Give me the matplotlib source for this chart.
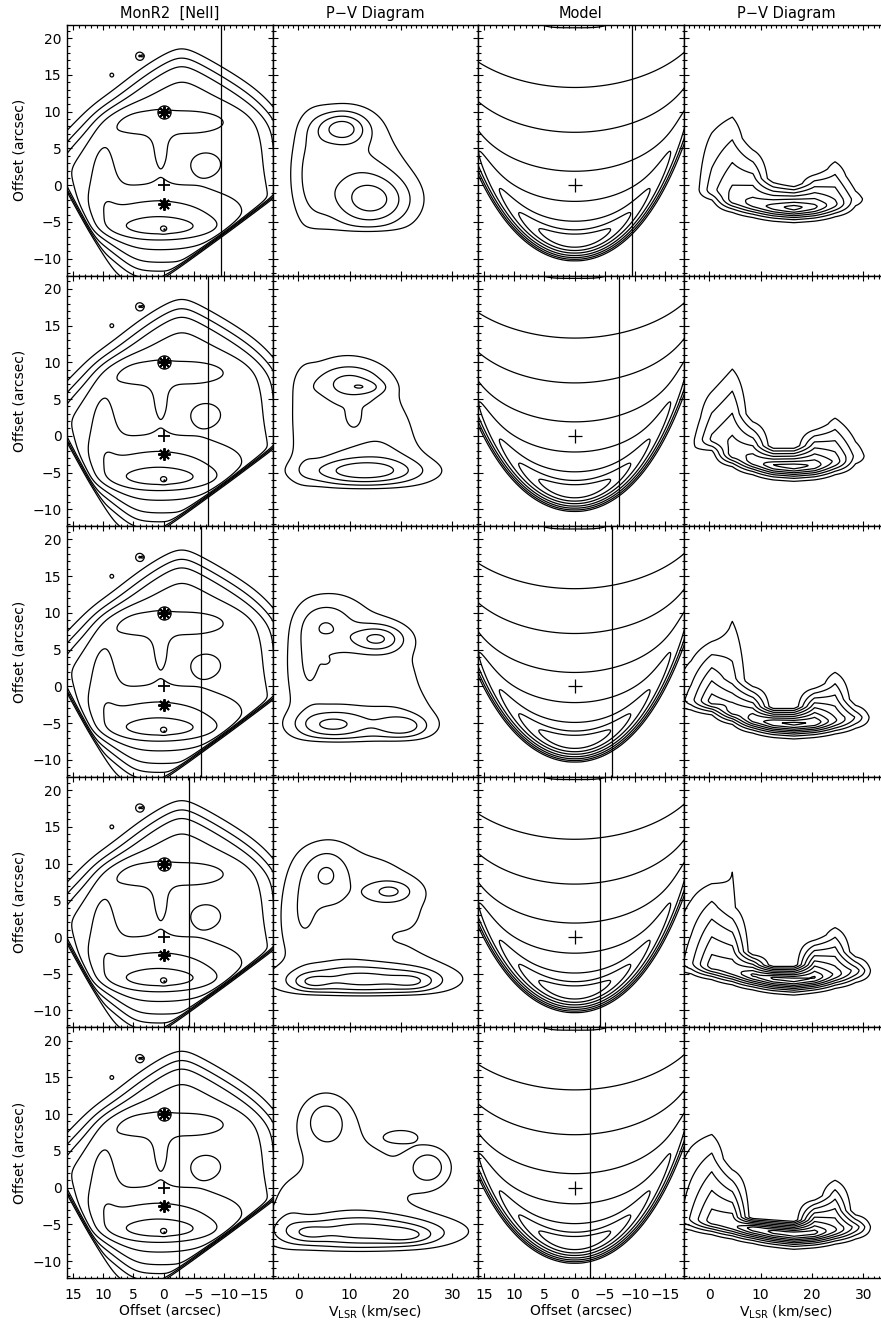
import numpy as np
import matplotlib
matplotlib.use("Agg")
import matplotlib.pyplot as plt
from matplotlib.ticker import MultipleLocator

plt.rcParams['font.family'] = ['DejaVu Sans']

FIG_W, FIG_H, DPI = 881, 1324, 100

# ---------------- text / ticks ----------------
col_titles = ["MonR2  [NeII]", "P\u2212V Diagram", "Model", "P\u2212V Diagram"]
offset_label = "Offset (arcsec)"
vel_label = r"V$_{\rm LSR}$ (km/sec)"

# slit position (arcsec) for each row
row_slit_offsets = [-9.4, -7.4, -6.1, -4.2, -2.6]

# ---------------- NeII map ----------------
neii_outline_x = [19.0, 17.0, 9.0, 2.0, -3.0, -10.0, -16.0, -19.0, -19.5, -5.0, 5.0, 13.0]
neii_outline_y = [2.0, 5.5, 11.5, 16.0, 17.8, 15.0, 11.5, 8.0, -4.0, -12.5, -12.5, -6.0]
neii_outline_amp = 4.3
neii_outline_soft = 1.1
neii_edge_left = [(16.0, -0.7), (9.0, -11.0)]
neii_edge_right = [(-17.5, -2.0), (-3.0, -10.8)]
neii_knot_x = [1.0, 0.5, 0.0, -4.5, 5.0, 0.5, -7.0, 4.0, 8.6, 10.0, 3.5]
neii_knot_y = [-4.5, -5.8, -6.0, 8.6, 8.6, 5.0, 3.0, 17.6, 15.0, 2.0, 17.6]
neii_knot_sx = [10.0, 6.5, 0.4, 5.0, 4.0, 1.3, 2.3, 0.5, 0.3, 1.8, 0.12]
neii_knot_sy = [3.0, 1.0, 0.3, 1.3, 1.6, 2.6, 1.4, 0.4, 0.25, 4.0, 0.1]
neii_knot_amp = [2.3, 1.3, 0.9, 1.3, 1.0, 0.9, 1.1, 1.8, 1.3, 1.0, 1.5]
neii_levels = [1, 2, 3, 4, 5, 6, 7, 8]
neii_circle = (0.0, 10.0)
neii_stars = [(0.0, 10.0), (0.0, -2.5)]
neii_plus = (0.0, 0.0)
neii_dot = (0.0, -6.0)

# ---------------- observed P-V diagrams (one list per row) ----------------
pvobs_v = [[10.5, 2.5, 8.5, 15.0],
           [9.5, 14.0, 18.5, 1.0, 10.0, 13.2, 12.5, 10.7],
           [9.5, 16.0, 20.0, 1.5, 5.5, 15.5, 6.0, 20.5, 5.4, 13.0],
           [12.5, 0.5, 5.5, 17.9, 13.0, 2.5, 22.8, 16.0],
           [10.5, 5.3, 25.5, 20.3, 13.0, 2.0, 21.6, -2.0]]
pvobs_y = [[1.5, 2.0, 7.8, -2.2],
           [3.5, -4.5, 0.0, 2.0, 7.3, 6.6, -4.9, 2.8],
           [3.0, -4.5, 1.0, 3.0, 8.5, 6.5, -5.3, -5.5, 3.5, 0.7],
           [1.5, 4.0, 8.8, 6.2, -5.8, -6.2, -6.1, 0.5],
           [0.0, 9.2, 2.8, 7.0, -6.0, -6.2, -6.6, -4.0]]
pvobs_sv = [[7.5, 2.5, 3.5, 5.5],
            [7.0, 9.5, 4.5, 1.8, 5.0, 2.6, 8.0, 0.8],
            [8.0, 9.0, 5.0, 2.5, 3.5, 3.6, 5.0, 3.5, 0.5, 4.5],
            [11.0, 2.5, 3.0, 3.0, 11.0, 2.5, 3.0, 5.0],
            [11.0, 3.5, 2.8, 2.2, 12.0, 2.5, 3.5, 2.5]]
pvobs_sy = [[6.0, 5.5, 1.6, 2.6],
            [6.0, 2.2, 3.5, 5.5, 1.7, 0.6, 1.2, 0.9],
            [7.0, 2.5, 4.0, 5.0, 2.3, 1.3, 1.4, 1.1, 0.3, 3.0],
            [8.0, 5.0, 2.5, 1.0, 1.5, 0.8, 0.9, 3.2],
            [6.5, 2.6, 1.8, 0.6, 1.6, 0.9, 0.8, 3.0]]
pvobs_amp = [[2.2, 1.3, 3.4, 3.0],
             [1.7, 1.6, 0.9, 0.9, 2.0, 1.0, 2.6, 1.0],
             [1.8, 1.3, 0.7, 1.0, 1.7, 3.0, 2.8, 2.3, 0.6, -0.9],
             [2.0, 1.0, 2.0, 2.0, 3.2, 1.5, 1.4, -0.8],
             [1.5, 2.2, 2.3, 1.1, 3.6, 1.2, 1.4, 0.8]]
pvobs_edge = [-6.4, -7.4, -7.7, -8.0, -8.9]
pvobs_levels = [1, 2, 3, 4, 5, 6]

# ---------------- model image ----------------
model_y0 = -9.4
model_a2 = 0.040
model_a4 = 3.0e-5
model_thick = 2.5
model_hd = 7.0
model_edge_gain = 0.22
model_beam = 0.45
model_center_level_y = [13.3, 7.2, 1.9, -2.2, -4.9]
model_inner_frac = [0.35, 0.7]
model_cap = (0.0, 23.0, 5.0, 0.9)   # x, y, half-width, height scale of top cap

# ---------------- model P-V diagrams (per channel) ----------------
pvm_chan = [-7.5, -3.5, 0.5, 4.5, 8.5, 12.5, 16.5, 20.5, 24.5, 28.5, 32.5, 36.5]
pvm_amp = [[0, 0, 2.6, 4.6, 5.5, 6.5, 7.5, 6.3, 4.3, 1.5, 0, 0],
           [0, 0.8, 3.2, 4.8, 5.8, 7.0, 7.6, 6.8, 4.8, 1.7, 0, 0],
           [0.6, 2.6, 5.5, 5.8, 6.8, 7.9, 8.3, 7.9, 5.2, 2.9, 0, 0],
           [0.7, 2.8, 5.6, 5.8, 7.2, 8.2, 8.5, 8.1, 5.8, 3.6, 0, 0],
           [0.8, 3.2, 5.6, 6.0, 7.6, 8.4, 8.7, 8.4, 6.2, 3.6, 0, 0]]
pvm_peak = [[-1.5, -1.5, -0.53, -1.85, -2.44, -2.85, -2.97, -2.86, -2.49, -1.84, -1.5, -1.5],
            [-1.5, -1.5, -0.38, -2.32, -3.31, -3.91, -4.06, -3.92, -3.42, -2.71, -2.0, -2.0],
            [-2.0, -1.74, -1.91, -3.18, -4.28, -4.8, -4.97, -4.8, -4.55, -4.15, -3.0, -3.0],
            [-3.5, -3.48, -3.83, -4.51, -5.09, -5.52, -5.71, -5.43, -5.01, -4.5, -4.0, -4.0],
            [-4.2, -4.18, -4.43, -4.99, -5.46, -5.91, -6.19, -6.01, -5.67, -5.3, -5.0, -5.0]]
pvm_ramp = [[3, 3, 12.4, 14.2, 8.85, 3.78, 3.2, 5.07, 7.4, 3.1, 3, 3],
            [3, 4, 9.3, 14.4, 6.3, 2.58, 2.72, 5.53, 7.35, 4.6, 3, 3],
            [8, 8.5, 9.8, 7.3, 5.0, 2.06, 2.24, 5.2, 8.0, 2.4, 3, 3],
            [12, 13.2, 13.5, 10.7, 3.1, 1.73, 1.94, 5.7, 7.6, 2.5, 3, 3],
            [13, 14.1, 14.2, 8.9, 1.45, 1.71, 1.8, 4.9, 7.95, 2.2, 3, 3]]
pvm_tail_amp = [[0] * 12, [0] * 12,
                [0, 0, 0, 3.2, 0, 0, 0, 0, 0, 0, 0, 0],
                [0, 0, 0, 1.5, 0, 0, 0, 0, 0, 0, 0, 0],
                [0] * 12]
pvm_tail_len = [[1] * 12, [1] * 12,
                [1, 1, 1, 17.5, 1, 1, 1, 1, 1, 1, 1, 1],
                [1, 1, 1, 40, 1, 1, 1, 1, 1, 1, 1, 1],
                [1] * 12]
pvm_lower_width = 1.5
pvm_levels = [1, 2, 3, 4, 5, 6, 7, 8, 9]

# ---------------- axes ranges ----------------
OFF_LIM = (16.0, -18.0)
VEL_LIM = (-5.0, 35.0)
Y_LIM = (-12.3, 21.8)


# ================= field builders =================
def gauss_sum(X, Y, xs, ys, sxs, sys_, amps):
    F = np.zeros_like(X)
    for x0, y0, sx, sy, a in zip(xs, ys, sxs, sys_, amps):
        F += a * np.exp(-0.5 * (((X - x0) / sx) ** 2 + ((Y - y0) / sy) ** 2))
    return F


def soft_polygon_distance(X, Y, px, py, s=0.7):
    px = np.asarray(px, float)
    py = np.asarray(py, float)
    cx, cy = px.mean(), py.mean()
    n = len(px)
    D = []
    for i in range(n):
        ax_, ay_ = px[i], py[i]
        bx_, by_ = px[(i + 1) % n], py[(i + 1) % n]
        ex, ey = bx_ - ax_, by_ - ay_
        L = np.hypot(ex, ey)
        nx, ny = -ey / L, ex / L
        if nx * (cx - ax_) + ny * (cy - ay_) < 0:
            nx, ny = -nx, -ny
        D.append(nx * (X - ax_) + ny * (Y - ay_))
    D = np.array(D)
    m = D.min(axis=0)
    return m - s * np.log(np.sum(np.exp(-(D - m) / s), axis=0))


def line_mask(X, Y, p1, p2, width=0.15):
    (x1, y1), (x2, y2) = p1, p2
    ex, ey = x2 - x1, y2 - y1
    L = np.hypot(ex, ey)
    nx, ny = -ey / L, ex / L
    if nx * (0 - x1) + ny * (0 - y1) < 0:
        nx, ny = -nx, -ny
    d = nx * (X - x1) + ny * (Y - y1)
    return 1.0 / (1.0 + np.exp(-np.clip(d / width, -60, 60)))


def neii_field():
    x = np.linspace(-18.5, 16.5, 351)
    y = np.linspace(-12.8, 22.3, 351)
    X, Y = np.meshgrid(x, y)
    d = soft_polygon_distance(X, Y, neii_outline_x, neii_outline_y)
    F = neii_outline_amp / (1.0 + np.exp(-np.clip(d / neii_outline_soft, -60, 60)))
    F = F + gauss_sum(X, Y, neii_knot_x, neii_knot_y, neii_knot_sx, neii_knot_sy, neii_knot_amp)
    F = F * line_mask(X, Y, *neii_edge_left) * line_mask(X, Y, *neii_edge_right)
    return X, Y, F


def pvobs_field(r):
    v = np.linspace(-5.5, 35.5, 301)
    y = np.linspace(-12.8, 22.3, 301)
    V, Y = np.meshgrid(v, y)
    F = gauss_sum(V, Y, pvobs_v[r], pvobs_y[r], pvobs_sv[r], pvobs_sy[r], pvobs_amp[r])
    F = F / (1.0 + np.exp(-(Y - pvobs_edge[r]) / 0.3))
    return V, Y, F


def blur(F, sig_px):
    rad = int(4 * sig_px)
    k = np.exp(-0.5 * (np.arange(-rad, rad + 1) / sig_px) ** 2)
    k /= k.sum()
    F = np.apply_along_axis(lambda m: np.convolve(m, k, mode='same'), 0, F)
    F = np.apply_along_axis(lambda m: np.convolve(m, k, mode='same'), 1, F)
    return F


def model_field():
    step = 0.1
    x = np.arange(-26.0, 24.0 + step / 2, step)
    y = np.arange(-16.0, 28.0 + step / 2, step)
    X, Y = np.meshgrid(x, y)

    def rho2(yv):
        h = np.clip(yv - model_y0, 0, None)
        return 2 * h / (model_a2 + np.sqrt(model_a2 ** 2 + 4 * model_a4 * h))

    path = 2 * (np.sqrt(np.clip(rho2(Y) - X ** 2, 0, None))
                - np.sqrt(np.clip(rho2(Y - model_thick) - X ** 2, 0, None)))
    I = np.exp(-(Y - model_y0) / model_hd) * (1 + model_edge_gain * (X / 16.0) ** 2) * path
    I = blur(I, model_beam / step)
    ix0 = np.argmin(np.abs(x))
    prof = I[:, ix0]
    lev = [float(np.interp(yy, y, prof)) for yy in model_center_level_y]
    sel = (y > -10) & (y < 0)
    peak = prof[sel].max()
    lev += [lev[-1] + f * (peak - lev[-1]) for f in model_inner_frac]
    lev = sorted(lev)
    cx, cy, cw, ch = model_cap
    I = I + lev[0] * 16.0 * np.exp(-((Y - cy) / ch) ** 2) * np.exp(-((X - cx) / cw) ** 4)
    return X, Y, I, lev


def pvmodel_field(r):
    yv = np.linspace(-12.8, 22.3, 702)
    ch = np.asarray(pvm_chan, float)
    F = np.zeros((len(yv), len(ch)))
    for j in range(len(ch)):
        A = pvm_amp[r][j]
        yp = pvm_peak[r][j]
        H = pvm_ramp[r][j]
        T = pvm_tail_amp[r][j]
        Ht = pvm_tail_len[r][j]
        u = yv - yp
        up = np.where(u >= 0,
                      np.maximum(A * np.clip(1 - u / H, 0, 1), T * np.clip(1 - u / Ht, 0, 1)),
                      0.0)
        lo = np.where(u < 0, A * np.exp(-(u / pvm_lower_width) ** 2), 0.0)
        F[:, j] = up + lo
    V, Y = np.meshgrid(ch, yv)
    return V, Y, F


# ================= figure =================
fig = plt.figure(figsize=(FIG_W / DPI, FIG_H / DPI), dpi=DPI)
LEFT0, COLW, TOP0, ROWH = 67.0, 205.5, 25.0, 250.6

NX, NY, NF = neii_field()
MX, MY, MF, MLEV = model_field()
LW = 0.9

for r in range(5):
    for c in range(4):
        x0 = LEFT0 + c * COLW
        yt = TOP0 + r * ROWH
        ax = fig.add_axes([x0 / FIG_W, 1 - (yt + ROWH) / FIG_H, COLW / FIG_W, ROWH / FIG_H])
        for s in ax.spines.values():
            s.set_linewidth(1.0)
        ax.tick_params(which='both', direction='in', top=True, right=True,
                       labelsize=10, pad=4, width=0.8)
        ax.tick_params(which='major', length=3.5)
        ax.tick_params(which='minor', length=1.8)
        ax.yaxis.set_major_locator(MultipleLocator(5))
        ax.yaxis.set_minor_locator(MultipleLocator(1))
        if c in (0, 2):
            ax.xaxis.set_major_locator(MultipleLocator(5))
            ax.xaxis.set_minor_locator(MultipleLocator(1))
        else:
            ax.xaxis.set_major_locator(MultipleLocator(10))
            ax.xaxis.set_minor_locator(MultipleLocator(1))

        if c == 0:
            ax.contour(NX, NY, NF, levels=neii_levels, colors='k', linewidths=LW)
            ax.plot(*neii_circle, marker='o', ms=9.5, mfc='none', mec='k', mew=0.9)
            for sx_, sy_ in neii_stars:
                ax.plot(sx_, sy_, marker=(8, 2, 0), ms=9, mec='k', mew=1.4)
            ax.plot(*neii_plus, marker='+', ms=9, mec='k', mew=1.3)
            ax.plot(*neii_dot, marker='.', ms=1.5, color='k')
            ax.axvline(row_slit_offsets[r], color='k', lw=0.9)
        elif c == 1:
            V, Y, F = pvobs_field(r)
            ax.contour(V, Y, F, levels=pvobs_levels, colors='k', linewidths=LW)
        elif c == 2:
            ax.contour(MX, MY, MF, levels=MLEV, colors='k', linewidths=LW)
            ax.plot(0, 0, marker='+', ms=10, mec='k', mew=0.9)
            ax.axvline(row_slit_offsets[r], color='k', lw=0.9)
        else:
            V, Y, F = pvmodel_field(r)
            ax.contour(V, Y, F, levels=pvm_levels, colors='k', linewidths=LW)

        ax.set_xlim(*(OFF_LIM if c in (0, 2) else VEL_LIM))
        ax.set_ylim(*Y_LIM)

        if c != 0:
            ax.set_yticklabels([])
        if r != 4:
            ax.set_xticklabels([])
        else:
            ax.tick_params(axis='x', pad=7)
            ax.set_xlabel(offset_label if c in (0, 2) else vel_label, fontsize=10, labelpad=1)
        if r == 0:
            ax.set_title(col_titles[c], fontsize=10.5, pad=5)

    fig.text(20 / FIG_W, 1 - (TOP0 + r * ROWH + ROWH / 2) / FIG_H, offset_label,
             rotation=90, ha='center', va='center', fontsize=10)

fig.savefig("out.png", dpi=DPI)
